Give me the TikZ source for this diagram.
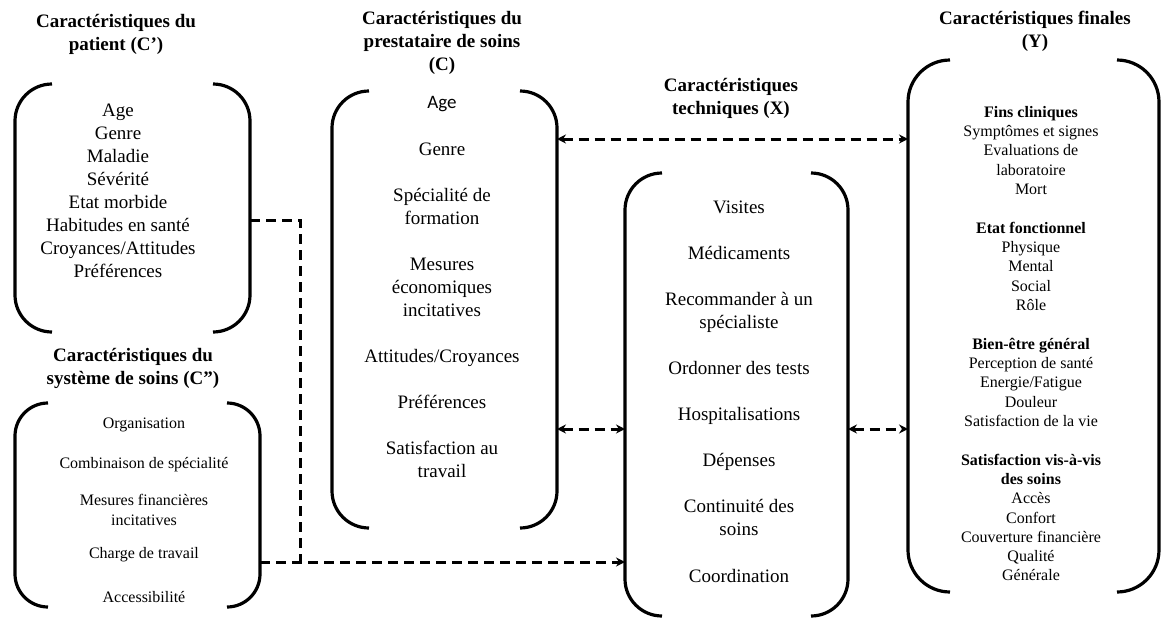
\documentclass[tikz,border=0pt]{standalone}
\usepackage{fontspec}
\setmainfont{Liberation Serif}
\newfontfamily\calibrifont{Carlito}
\usetikzlibrary{arrows.meta}
\newcommand\bracketpair[2]{%
  \draw[brk, rounded corners=#2] ([xshift=#2]#1.north west) -- (#1.north west) -- (#1.south west) -- ([xshift=#2]#1.south west);
  \draw[brk, rounded corners=#2] ([xshift=-#2]#1.north east) -- (#1.north east) -- (#1.south east) -- ([xshift=-#2]#1.south east);
}
\begin{document}
\begin{tikzpicture}[x=1pt,y=-1pt,
  >={Stealth[length=9pt,width=9pt]},
  frame/.style={draw=none, inner sep=0pt, outer sep=0pt},
  brk/.style={line width=3.2pt, line cap=butt},
  dsh/.style={line width=3pt, dash pattern=on 10pt off 6pt},
  tit/.style={font=\bfseries\fontsize{19}{23}\selectfont, align=center, anchor=north, inner sep=0pt},
  big/.style={font=\fontsize{19}{23}\selectfont, align=center, anchor=north, inner sep=0pt},
  sm/.style={font=\fontsize{16}{19.2}\selectfont, align=center, anchor=north, inner sep=0pt},
  sms/.style={font=\fontsize{16}{19.5}\selectfont, align=center, anchor=north, inner sep=0pt}]
\useasboundingbox (0,0) rectangle (1163,619);

% boxes
\node[frame, minimum width=235pt, minimum height=248pt] (P) at (132.5,208) {};
\node[frame, minimum width=245pt, minimum height=204pt] (S) at (137.5,505) {};
\node[frame, minimum width=225pt, minimum height=437pt] (C) at (444.5,309.5) {};
\node[frame, minimum width=223pt, minimum height=443pt] (X) at (736.5,394.5) {};
\node[frame, minimum width=251pt, minimum height=532pt] (Y) at (1033.5,326) {};

\bracketpair{P}{37pt}
\bracketpair{S}{33pt}
\bracketpair{C}{37pt}
\bracketpair{X}{37pt}
\bracketpair{Y}{42pt}

% titles
\node[tit] (Pt) at (116,14.2) {Caractéristiques du\\patient (C’)};
\node[tit] (St) at (133,348.2) {Caractéristiques du\\système de soins (C”)};
\node[tit] (Ct) at (442,11.2) {Caractéristiques du\\prestataire de soins\\(C)};
\node[tit] (Xt) at (731,78.2) {Caractéristiques\\techniques (X)};
\node[tit] (Yt) at (1035,11.2) {Caractéristiques finales\\(Y)};

% contents
\node[big] (Pb) at (118,100.2) {\strut Age\\Genre\\Maladie\\Sévérité\\Etat morbide\\Habitudes en santé\\Croyances/Attitudes\\Préférences};
\node[sms] (Sb) at (144,414.65) {\strut Organisation\\[20.5pt]Combinaison de spécialité\\[17.5pt]Mesures financières\\incitatives\\[14pt]Charge de travail\\[24.5pt]Accessibilité};
\node[big] (Cb) at (442,92.2) {\strut{\calibrifont Age}\\[24pt]Genre\\[23pt]Spécialité de\\formation\\[23pt]Mesures\\économiques\\incitatives\\[23pt]Attitudes/Croyances\\[23pt]Préférences\\[23pt]Satisfaction au\\travail};
\node[big] (Xb) at (739,197.2) {\strut Visites\\[23pt]Médicaments\\[23pt]Recommander à un\\spécialiste\\[23pt]Ordonner des tests\\[23pt]Hospitalisations\\[23pt]Dépenses\\[23pt]Continuité des\\soins\\[24pt]Coordination};
\node[sm] (Yb) at (1031,103.9) {\strut\textbf{Fins cliniques}\\Symptômes et signes\\Evaluations de\\laboratoire\\Mort\\[20pt]\textbf{Etat fonctionnel}\\Physique\\Mental\\Social\\Rôle\\[20pt]\textbf{Bien-être général}\\Perception de santé\\Energie/Fatigue\\Douleur\\Satisfaction de la vie\\[20pt]\textbf{Satisfaction vis-à-vis}\\\textbf{des soins}\\Accès\\Confort\\Couverture financière\\Qualité\\Générale};

% connectors
\coordinate (c1) at ([yshift=170.5pt]C.east);
\coordinate (c2) at ([yshift=-119.5pt]C.east);
\coordinate (x2) at ([yshift=-34.5pt]X.east);
\coordinate (s1) at ([yshift=-57pt]S.east);
\coordinate (p1) at ([yshift=-12pt]P.east);
\coordinate (j) at ([xshift=40pt]s1);
\draw[dsh,<->] (c1) -- (c1 -| Y.west);
\draw[dsh,<->] (c2) -- (c2 -| X.west);
\draw[dsh,<->] (x2) -- (x2 -| Y.west);
\draw[dsh,->] (s1) -- (s1 -| X.west);
\draw[dsh] (p1) -| (j);
\end{tikzpicture}
\end{document}
